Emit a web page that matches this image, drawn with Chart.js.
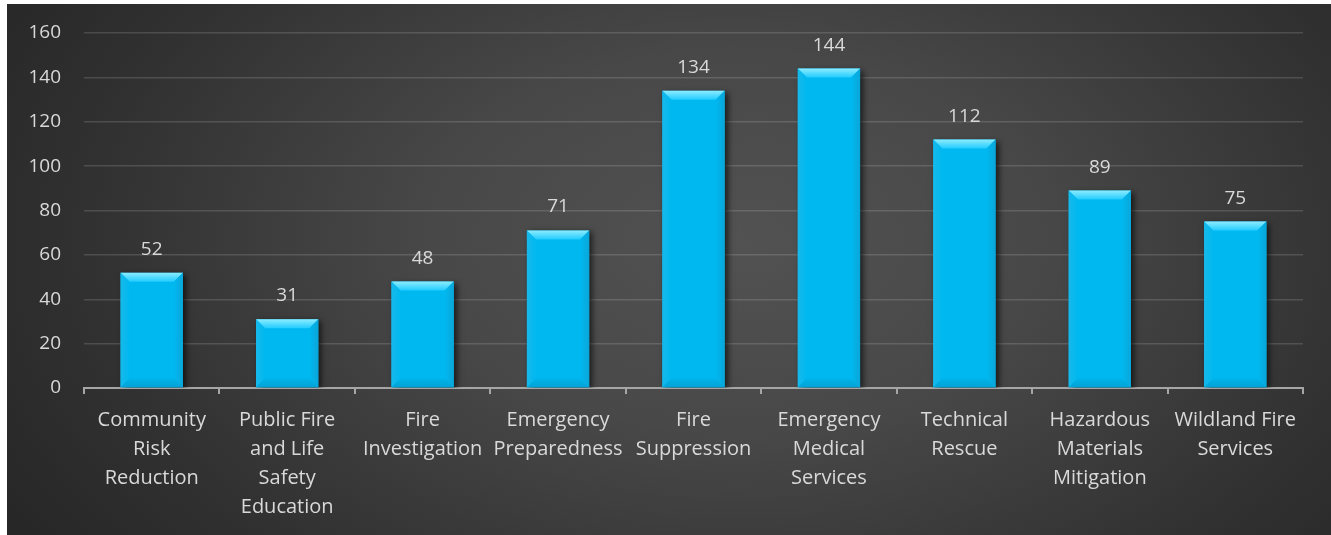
<!DOCTYPE html>
<html>
<head>
<meta charset="utf-8">
<script src="https://cdn.jsdelivr.net/npm/chart.js@4/dist/chart.umd.min.js"></script>
<style>
  html, body { margin: 0; padding: 0; background: #ffffff; overflow: hidden; }
  #wrap { position: absolute; left: 7px; top: 4px; width: 1324px; height: 531px; }
  canvas { display: block; }
</style>
</head>
<body>
<div id="wrap"><canvas id="c" width="1324" height="531"></canvas></div>
<script>
const categories = [
  ["Community", "Risk", "Reduction"],
  ["Public Fire", "and Life", "Safety", "Education"],
  ["Fire", "Investigation"],
  ["Emergency", "Preparedness"],
  ["Fire", "Suppression"],
  ["Emergency", "Medical", "Services"],
  ["Technical", "Rescue"],
  ["Hazardous", "Materials", "Mitigation"],
  ["Wildland Fire", "Services"]
];
const values = [52, 31, 48, 71, 134, 144, 112, 89, 75];
const yTicks = [0, 20, 40, 60, 80, 100, 120, 140, 160];

const FONT = "'Open Sans', Lato, sans-serif";
const TEXT = '#d9d9d9';

const bgPlugin = {
  id: 'bg',
  beforeDraw(chart) {
    const ctx = chart.ctx, w = chart.width, h = chart.height;
    ctx.save();
    ctx.fillStyle = '#262626';
    ctx.fillRect(0, 0, w, h);
    const cx = w * 0.55, cy = h * 0.45;
    ctx.translate(cx, cy);
    ctx.scale(1.6, 1);
    const g = ctx.createRadialGradient(0, 0, 0, 0, 0, 540);
    g.addColorStop(0, '#525252');
    g.addColorStop(0.35, '#484848');
    g.addColorStop(0.75, '#313131');
    g.addColorStop(1, '#262626');
    ctx.fillStyle = g;
    ctx.fillRect(-cx / 1.6, -cy, w / 1.6, h);
    ctx.restore();
  }
};

const shadowPlugin = {
  id: 'barShadow',
  beforeDatasetDraw(chart) {
    const ctx = chart.ctx;
    ctx.save();
    ctx.shadowColor = 'rgba(0,0,0,0.65)';
    ctx.shadowBlur = 6;
    ctx.shadowOffsetX = 3;
    ctx.shadowOffsetY = 2;
  },
  afterDatasetDraw(chart) {
    chart.ctx.restore();
  }
};

const bevelPlugin = {
  id: 'bevel',
  afterDatasetsDraw(chart) {
    const ctx = chart.ctx;
    const meta = chart.getDatasetMeta(0);
    ctx.save();
    meta.data.forEach((bar, i) => {
      const p = bar.getProps(['x', 'y', 'base', 'width'], true);
      const l = p.x - p.width / 2, r = p.x + p.width / 2, t = p.y, b = p.base;
      const bv = 9;
      let g = ctx.createLinearGradient(0, t, 0, t + bv);
      g.addColorStop(0, '#8cecff');
      g.addColorStop(1, '#22ccff');
      ctx.fillStyle = g;
      ctx.beginPath();
      ctx.moveTo(l, t); ctx.lineTo(r, t); ctx.lineTo(r - bv, t + bv); ctx.lineTo(l + bv, t + bv); ctx.closePath();
      ctx.fill();
      g = ctx.createLinearGradient(l, 0, l + bv, 0);
      g.addColorStop(0, '#17b9ea');
      g.addColorStop(1, '#00b8f0');
      ctx.fillStyle = g;
      ctx.beginPath();
      ctx.moveTo(l, t); ctx.lineTo(l + bv, t + bv); ctx.lineTo(l + bv, b - bv); ctx.lineTo(l, b); ctx.closePath();
      ctx.fill();
      g = ctx.createLinearGradient(r - bv, 0, r, 0);
      g.addColorStop(0, '#00b8f0');
      g.addColorStop(1, '#0aa6d8');
      ctx.fillStyle = g;
      ctx.beginPath();
      ctx.moveTo(r, t); ctx.lineTo(r - bv, t + bv); ctx.lineTo(r - bv, b - bv); ctx.lineTo(r, b); ctx.closePath();
      ctx.fill();
      g = ctx.createLinearGradient(0, b - bv, 0, b);
      g.addColorStop(0, '#00b4ec');
      g.addColorStop(1, '#03a2d4');
      ctx.fillStyle = g;
      ctx.beginPath();
      ctx.moveTo(l, b); ctx.lineTo(l + bv, b - bv); ctx.lineTo(r - bv, b - bv); ctx.lineTo(r, b); ctx.closePath();
      ctx.fill();
      ctx.fillStyle = TEXT;
      ctx.font = '19px ' + FONT;
      ctx.textAlign = 'center';
      ctx.textBaseline = 'alphabetic';
      ctx.fillText(String(values[i]), p.x, t - 18);
    });
    ctx.restore();
  }
};

new Chart(document.getElementById('c'), {
  type: 'bar',
  data: {
    labels: categories,
    datasets: [{
      data: values,
      backgroundColor: '#00b8f0',
      borderWidth: 0,
      barPercentage: 0.46,
      categoryPercentage: 1.0
    }]
  },
  options: {
    responsive: false,
    animation: false,
    devicePixelRatio: 1,
    layout: { padding: { top: 29, right: 28, left: 0, bottom: 0 } },
    plugins: {
      legend: { display: false },
      tooltip: { enabled: false }
    },
    scales: {
      x: {
        afterFit(scale) { scale.height = 147; },
        border: { display: true, color: '#a6a6a6', width: 2 },
        grid: { display: true, drawOnChartArea: false, drawTicks: true, tickLength: 6, color: '#a6a6a6', lineWidth: 2, offset: true },
        ticks: {
          color: TEXT,
          font: { family: FONT, size: 20, lineHeight: '29px' },
          padding: 12,
          maxRotation: 0,
          autoSkip: false
        }
      },
      y: {
        min: 0, max: 160,
        afterFit(scale) { scale.width = 77; scale.paddingTop = 29; scale.paddingBottom = 0; },
        afterBuildTicks(scale) { scale.ticks = yTicks.map(v => ({ value: v })); },
        border: { display: false },
        grid: { color: 'rgba(255,255,255,0.14)', lineWidth: 1.5, drawTicks: false },
        ticks: {
          color: TEXT,
          font: { family: FONT, size: 19 },
          padding: 23
        }
      }
    }
  },
  plugins: [bgPlugin, shadowPlugin, bevelPlugin]
});
</script>
</body>
</html>
